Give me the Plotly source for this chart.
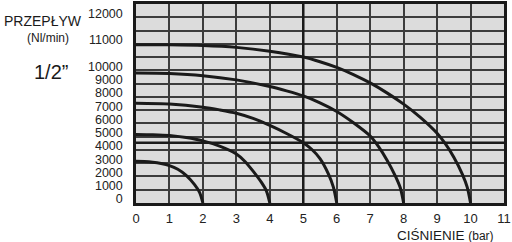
import plotly.graph_objects as go

# ---- data: flow (Nl/min) vs pressure (bar) ----
p10 = [0, 1, 2, 3, 4, 5, 5.5, 6, 6.5, 7, 7.5, 8, 8.5, 9, 9.25, 9.5, 9.75, 9.9, 10]
q10 = [10965, 10960, 10935, 10865, 10720, 10500, 10325, 10110, 9680, 9050, 8300,
       7450, 6450, 5250, 4450, 3450, 2200, 1200, 0]
p8 = [0, 1, 2, 3, 4, 4.5, 5, 5.5, 6, 6.5, 7, 7.25, 7.5, 7.75, 7.9, 8]
q8 = [9800, 9760, 9600, 9280, 8780, 8450, 8070, 7550, 6900, 6050, 5050, 4250, 3250,
      2050, 1150, 0]
p6 = [0, 1, 2, 2.5, 3, 3.5, 4, 4.5, 5, 5.25, 5.5, 5.75, 5.9, 6]
q6 = [7520, 7460, 7220, 7020, 6770, 6380, 5850, 5240, 4550, 4050, 3350, 2200, 1200, 0]
p4 = [0, 0.5, 1, 1.5, 2, 2.5, 3, 3.25, 3.5, 3.75, 3.9, 4]
q4 = [5170, 5150, 5090, 4930, 4680, 4280, 3690, 3150, 2400, 1550, 900, 0]
p2 = [0, 0.25, 0.5, 0.75, 1, 1.25, 1.5, 1.75, 1.9, 2]
q2 = [3140, 3130, 3080, 2980, 2820, 2540, 2080, 1380, 800, 0]

x_ticks = list(range(0, 12))
y_tick_vals = [0, 1000, 2000, 3000, 4000, 5000, 6000, 7000, 8000, 9000, 10000,
               10500, 11000, 11500, 12000]
y_tick_text = ["0", "1000", "2000", "3000", "4000", "5000", "6000", "7000", "8000",
               "9000", "10000", "", "11000", "", "12000"]
y_max = 12500
marker_p = 5
marker_q = 4550


def scale(v):
    # chart's own non-linear flow scale: 1000 per grid step up to 10000, 500 above
    return v / 1000 if v <= 10000 else 10 + (v - 10000) / 500


fig = go.Figure()
for p, q in [(p10, q10), (p8, q8), (p6, q6), (p4, q4), (p2, q2)]:
    fig.add_trace(go.Scatter(x=p, y=[scale(v) for v in q], mode="lines",
                             line=dict(color="#1a1a1a", width=3, shape="spline", smoothing=0.8),
                             hoverinfo="skip", showlegend=False))

grid_col = "#3c3c3c"
font = "Liberation Sans, Arial, sans-serif"
fig.update_xaxes(range=[0, 11], tickvals=x_ticks, ticks="", showgrid=True,
                 gridcolor=grid_col, gridwidth=1.5, zeroline=False,
                 showline=True, linecolor="#1a1a1a", linewidth=2.5, mirror=True,
                 tickfont=dict(family=font, size=13, color="#222"),
                 ticklabelstandoff=2, ticklabeloverflow="allow")
fig.update_yaxes(range=[0, scale(y_max)], tickvals=[scale(v) for v in y_tick_vals],
                 ticktext=y_tick_text, ticks="", showgrid=True,
                 gridcolor=grid_col, gridwidth=1.5, zeroline=False,
                 showline=True, linecolor="#1a1a1a", linewidth=2.5, mirror=True,
                 tickfont=dict(family=font, size=12.5, color="#222"),
                 ticklabelstandoff=8, ticklabelshift=-4, ticklabeloverflow="allow")

fig.add_shape(type="line", x0=marker_p, x1=marker_p, y0=0, y1=scale(y_max),
              line=dict(color="#1a1a1a", width=2.5))
fig.add_shape(type="line", x0=0, x1=11, y0=scale(marker_q), y1=scale(marker_q),
              line=dict(color="#1a1a1a", width=2.5))

W, H = 512, 242
L, R, T, B = 136, 3, 1, 39
pw, ph = W - L - R, H - T - B


def px(x):
    return (x - L) / pw


def py(y):
    return (H - B - y) / ph


ann = [
    dict(text="PRZEPŁYW", x=px(0), y=py(18), xanchor="left", size=14),
    dict(text="(Nl/min)", x=px(47), y=py(36), xanchor="center", size=12),
    dict(text="1/2”", x=px(49.5), y=py(70), xanchor="center", size=20),
    dict(text="CIŚNIENIE <span style='font-size:12px'>(bar)</span>", x=px(501), y=py(236),
         xanchor="right", size=13.5),
]
for a in ann:
    fig.add_annotation(text=a["text"], x=a["x"], y=a["y"], xref="paper", yref="paper",
                       xanchor=a["xanchor"], yanchor="middle", showarrow=False,
                       font=dict(family=font, size=a["size"], color="#1a1a1a"))

fig.update_layout(width=W, height=H, margin=dict(l=L, r=R, t=T, b=B),
                  plot_bgcolor="#dcdcdc", paper_bgcolor="white")
fig.write_html("out.html")
